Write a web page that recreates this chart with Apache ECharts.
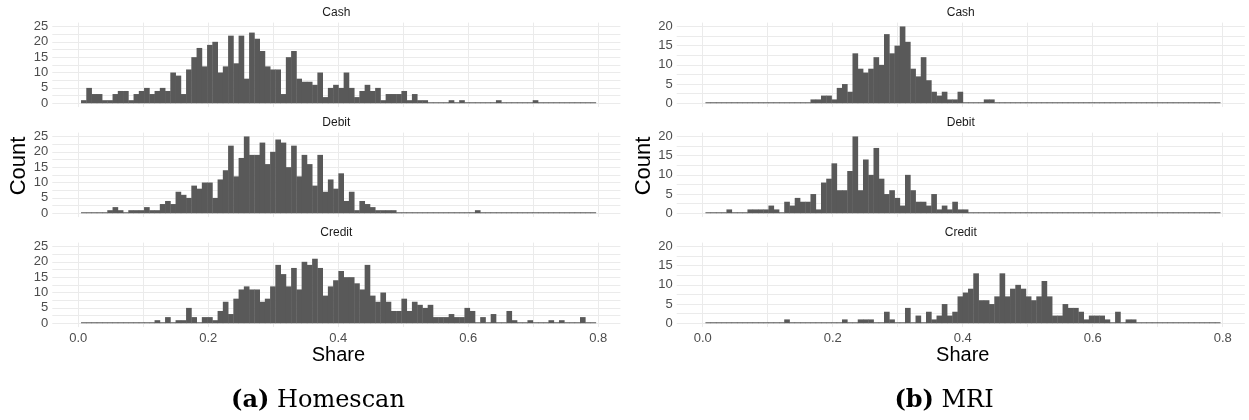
<!DOCTYPE html>
<html><head><meta charset="utf-8">
<script src="https://cdn.jsdelivr.net/npm/echarts@6/dist/echarts.min.js"></script>
<style>html,body{margin:0;padding:0;background:#fff}#c{width:1249px;height:420px}</style>
</head><body><div id="c"></div>
<script>
// ---- data ----
const CATEGORIES = ['Cash', 'Debit', 'Credit'];
const BIN_START = 0.0042;
const BIN_WIDTH = 0.00808;
const X_TICK_LABELS = [0, 0.2, 0.4, 0.6, 0.8];
const X_GRID_VALUES = [0, 0.1, 0.2, 0.3, 0.4, 0.5, 0.6, 0.7, 0.8];
const Y_LABELS_A = [0, 5, 10, 15, 20, 25];
const Y_GRID_A = [0, 2.5, 5, 7.5, 10, 12.5, 15, 17.5, 20, 22.5, 25];
const Y_LABELS_B = [0, 5, 10, 15, 20];
const Y_GRID_B = [0, 2.5, 5, 7.5, 10, 12.5, 15, 17.5, 20];

// Homescan (a)
const homescanCash = [1,5,3,3,1,1,3,4,4,1, 3,4,5,3,4,5,4,10,9,3, 11,15,18,12,19,20,10,12,22,13, 22,8,23,21,17,12,11,11,3,15, 17,8,7,7,6,10,2,5,6,5, 10,5,2,4,6,4,5,1,3,3, 3,4,1,3,1,1,0,0,0,0, 1,0,1,0,0,0,0,0,0,1, 0,0,0,0,0,0,1,0,0,0, 0,0,0,0,0,0,0,0];
const homescanDebit = [0,0,0,0,0,1,2,1,0,1, 1,1,2,1,1,3,4,3,7,6, 5,9,8,10,10,5,11,14,22,12, 18,25,19,19,23,16,20,24,23,15, 22,12,19,16,9,19,7,11,8,13, 4,7,1,4,3,2,1,1,1,1, 0,0,0,0,0,0,0,0,0,0, 0,0,0,0,0,1,0,0,0,0, 0,0,0,0,0,0,0,0,0,0, 0,0,0,0,0,0,0,0];
const homescanCredit = [0,0,0,0,0,0,0,0,0,0, 0,0,0,0,1,0,2,0,1,1, 5,2,0,2,2,1,4,7,3,8, 11,12,11,11,7,8,12,19,16,12, 18,11,20,19,21,18,9,12,14,17, 15,15,13,11,19,9,7,10,7,4, 4,8,4,7,6,5,6,2,2,2, 3,2,2,5,4,0,2,0,3,0, 0,4,1,0,0,1,0,0,0,1, 0,1,0,0,0,2,0,0];
// MRI (b)
const mriCash = [0,0,0,0,0,0,0,0,0,0, 0,0,0,0,0,0,0,0,0,0, 1,1,2,2,1,4,5,3,13,9, 8,9,12,10,18,13,15,20,16,9, 7,12,6,3,2,3,1,1,3,0, 0,0,0,1,1,0,0,0,0,0, 0,0,0,0,0,0,0,0,0,0, 0,0,0,0,0,0,0,0,0,0, 0,0,0,0,0,0,0,0,0,0, 0,0,0,0,0,0,0,0];
const mriDebit = [0,0,0,0,1,0,0,0,1,1, 1,1,2,1,0,3,2,4,3,3, 5,1,8,9,13,6,6,11,20,6, 14,10,17,9,5,6,4,2,10,6, 3,3,2,5,1,2,1,3,1,1, 0,0,0,0,0,0,0,0,0,0, 0,0,0,0,0,0,0,0,0,0, 0,0,0,0,0,0,0,0,0,0, 0,0,0,0,0,0,0,0,0,0, 0,0,0,0,0,0,0,0];
const mriCredit = [0,0,0,0,0,0,0,0,0,0, 0,0,0,0,0,1,0,0,0,0, 0,0,0,0,0,0,1,0,0,1, 1,1,0,0,3,1,0,0,4,0, 2,0,3,1,2,5,2,3,7,8, 9,13,6,6,5,7,13,7,9,10, 9,7,6,7,11,7,2,2,5,4, 4,3,1,2,2,2,1,0,3,0, 1,1,0,0,0,0,0,0,0,0, 0,0,0,0,0,0,0,0];

const PANEL_A = { caption: 'Homescan', tag: '(a)', series: [homescanCash, homescanDebit, homescanCredit], yMin: -1.25, yMax: 26.25, yLabels: Y_LABELS_A, yGrid: Y_GRID_A };
const PANEL_B = { caption: 'MRI', tag: '(b)', series: [mriCash, mriDebit, mriCredit], yMin: -1, yMax: 21, yLabels: Y_LABELS_B, yGrid: Y_GRID_B };

// ---- layout ----
const FONT = "'Liberation Sans', Arial, Helvetica, sans-serif";
const SERIF = "'DejaVu Serif', serif";
const X_MIN = -0.04, X_MAX = 0.834;
const PANEL_LEFT = [52.3, 676.7];
const PANEL_W = 568.1;
const PANEL_TOP = [22.6, 132.6, 242.6];
const PANEL_H = 84.5;

const chart = echarts.init(document.getElementById('c'), null, { renderer: 'canvas' });
const grids = [], xAxes = [], yAxes = [], series = [], graphics = [];

function binData(counts) {
  return counts.map((c, i) => [BIN_START + BIN_WIDTH * i, BIN_START + BIN_WIDTH * (i + 1), c]);
}

[PANEL_A, PANEL_B].forEach((P, pi) => {
  CATEGORIES.forEach((cat, fi) => {
    const gi = grids.length;
    const bottom = fi === CATEGORIES.length - 1;
    grids.push({ left: PANEL_LEFT[pi], top: PANEL_TOP[fi], width: PANEL_W, height: PANEL_H, containLabel: false });
    xAxes.push({
      gridIndex: gi, type: 'value', min: X_MIN, max: X_MAX,
      axisLine: { show: false },
      axisTick: { show: false, customValues: X_GRID_VALUES },
      axisLabel: { show: bottom, customValues: X_TICK_LABELS, formatter: v => v.toFixed(1), margin: 5, color: '#4d4d4d', fontSize: 13, fontFamily: FONT },
      splitLine: { show: true, lineStyle: { color: '#ebebeb', width: 1 } }
    });
    yAxes.push({
      gridIndex: gi, type: 'value', min: P.yMin, max: P.yMax,
      axisLine: { show: false },
      axisTick: { show: false, customValues: P.yGrid },
      axisLabel: { customValues: P.yLabels, margin: 4, color: '#4d4d4d', fontSize: 13, fontFamily: FONT },
      splitLine: { show: true, lineStyle: { color: '#ebebeb', width: 1 } }
    });
    series.push({
      type: 'custom', xAxisIndex: gi, yAxisIndex: gi,
      data: binData(P.series[fi]),
      encode: { x: [0, 1], y: 2 },
      renderItem: function (params, api) {
        const p0 = api.coord([api.value(0), 0]);
        const p1 = api.coord([api.value(1), api.value(2)]);
        const top = Math.min(p1[1], p0[1] - 1);
        return { type: 'rect', shape: { x: p0[0], y: top, width: p1[0] - p0[0] + 0.4, height: p0[1] - top }, style: { fill: '#595959' } };
      }
    });
    graphics.push({ type: 'text', x: PANEL_LEFT[pi] + PANEL_W / 2, y: PANEL_TOP[fi] - 10, style: { text: cat, align: 'center', verticalAlign: 'middle', fill: '#1a1a1a', fontSize: 12, fontFamily: FONT } });
  });
  const cx = PANEL_LEFT[pi] + PANEL_W / 2;
  graphics.push({ type: 'text', x: PANEL_LEFT[pi] - 33, y: 166, rotation: Math.PI / 2, style: { text: 'Count', align: 'center', verticalAlign: 'middle', fill: '#000', fontSize: 22, fontFamily: FONT } });
  graphics.push({ type: 'text', x: cx + 2, y: 355, style: { text: 'Share', align: 'center', verticalAlign: 'middle', fill: '#000', fontSize: 20, fontFamily: FONT } });
  graphics.push({ type: 'text', x: pi === 0 ? 318 : 944, y: 401, style: {
    text: '{b|' + P.tag + '}{r| ' + P.caption + '}', align: 'center', verticalAlign: 'middle', fill: '#000', fontSize: 24, fontFamily: SERIF,
    rich: {
      b: { fontWeight: 'bold', fontSize: 24, fontFamily: SERIF, fill: '#000' },
      r: { fontWeight: 'normal', fontSize: 24, fontFamily: SERIF, fill: '#000' }
    } } });
});

chart.setOption({
  animation: false,
  backgroundColor: '#fff',
  grid: grids, xAxis: xAxes, yAxis: yAxes, series: series,
  graphic: { elements: graphics }
});
</script></body></html>
